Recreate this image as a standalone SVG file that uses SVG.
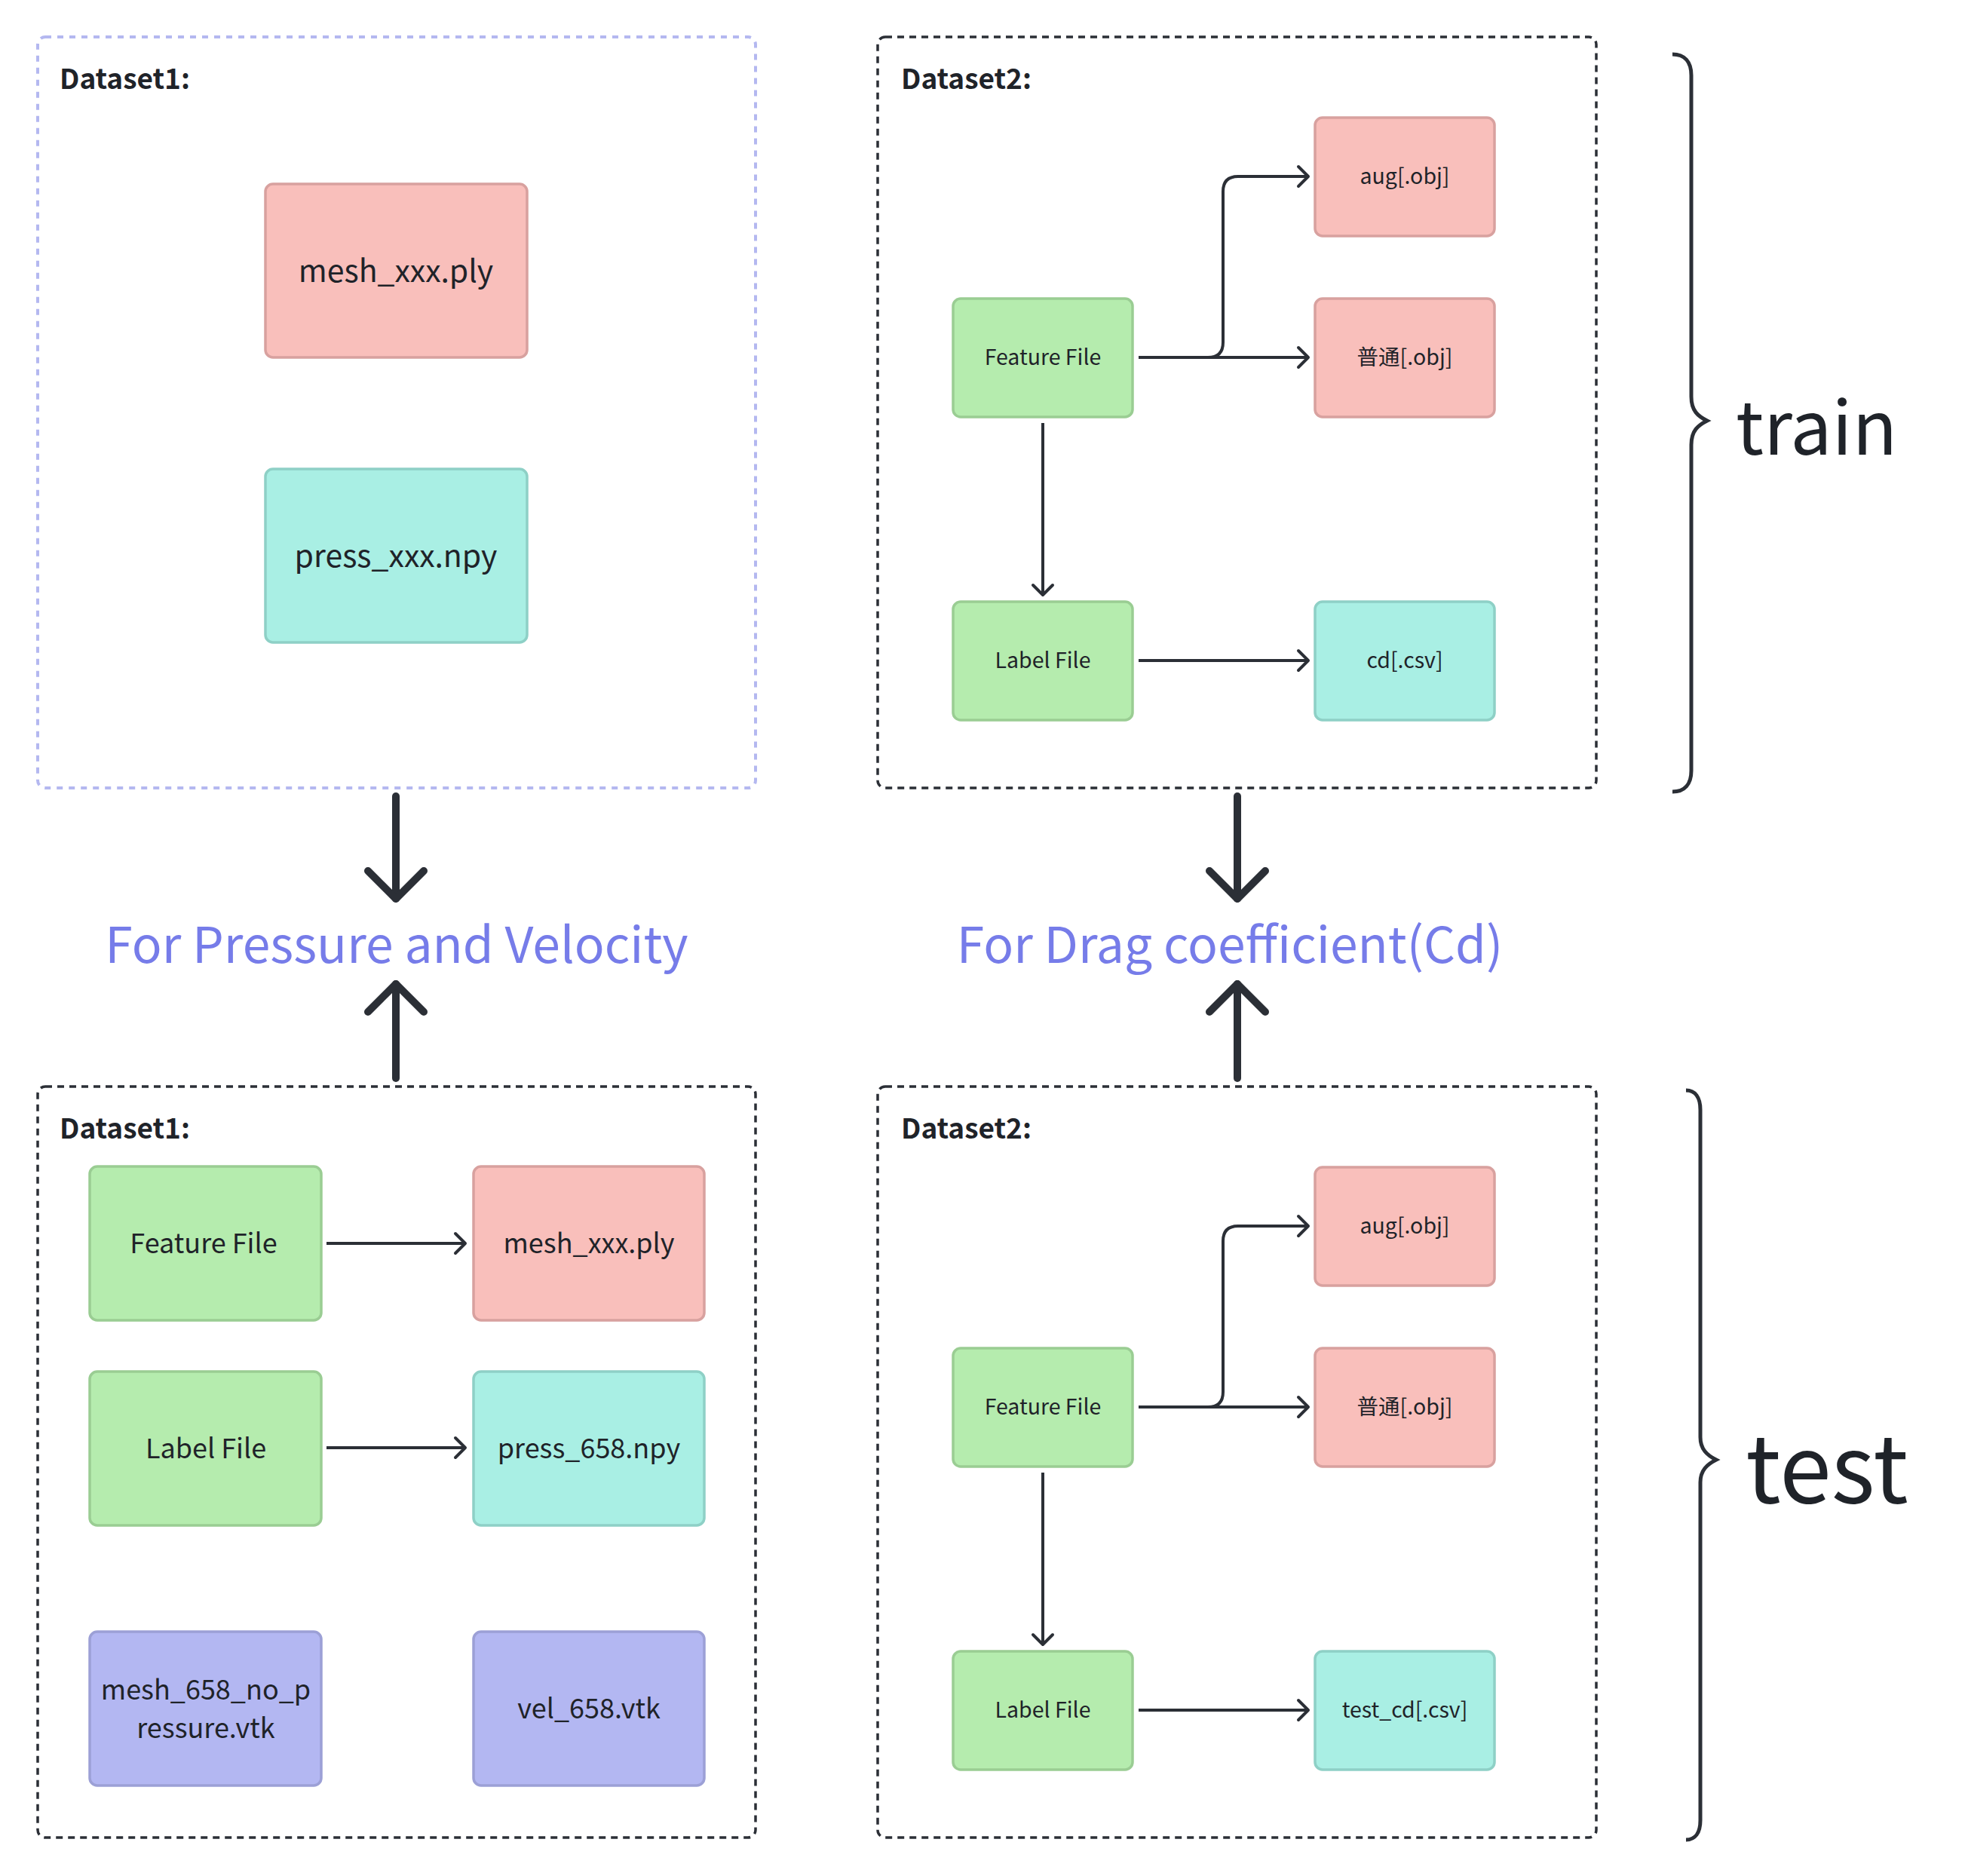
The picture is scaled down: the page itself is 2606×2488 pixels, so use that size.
<svg xmlns="http://www.w3.org/2000/svg" width="2606" height="2488" viewBox="0 0 2606 2488">
<style>
text{font-family:"Noto Sans CJK SC","Noto Sans",sans-serif;fill:#1f2329}
.lbl{font-weight:700;font-size:37px}
.n48{font-size:41px;text-anchor:middle}
.n41{font-size:36px;text-anchor:middle}
.n32{font-size:28.5px;text-anchor:middle}
.for{font-size:66px;fill:#767ce9;text-anchor:middle}
.big{font-size:98px}
.grp-light{fill:none;stroke:#b4b8f0;stroke-width:4;stroke-dasharray:8 8}
.grp-dark{fill:none;stroke:#2b2f36;stroke-width:3.5;stroke-dasharray:9 7}
.pink{fill:#f9bfbb;stroke:#d8a19f;stroke-width:3.5}
.teal{fill:#a9efe4;stroke:#8ed0c6;stroke-width:3.5}
.green{fill:#b5ecae;stroke:#9acd93;stroke-width:3.5}
.purple{fill:#b3b7f2;stroke:#9ca0d6;stroke-width:3.5}
.thin{fill:none;stroke:#2b2f36;stroke-width:4;marker-end:url(#ah)}
.thick{fill:none;stroke:#2b2f36;stroke-width:10;stroke-linecap:round;marker-end:url(#bh)}
.brace{fill:none;stroke:#2b2f36;stroke-width:5}
</style>
<defs>
<marker id="ah" markerUnits="userSpaceOnUse" viewBox="0 0 40 40" markerWidth="40" markerHeight="40" refX="22" refY="20" orient="auto">
<path d="M8,7 L21,20 L8,33" fill="none" stroke="#2b2f36" stroke-width="4" stroke-linecap="round" stroke-linejoin="round"/>
</marker>
<marker id="bh" markerUnits="userSpaceOnUse" viewBox="0 0 100 100" markerWidth="100" markerHeight="100" refX="50" refY="50" orient="auto">
<path d="M13,13 L50,50 L13,87" fill="none" stroke="#2b2f36" stroke-width="10" stroke-linecap="round" stroke-linejoin="round"/>
</marker>
</defs>
<rect width="2606" height="2488" fill="#ffffff"/>

<g id="train-dataset1">
<rect class="grp-light" x="50" y="49" width="952" height="996" rx="10"/>
<text class="lbl" x="79" y="118">Dataset1:</text>
</g>
<g id="train-mesh"><rect class="pink" x="352" y="244" width="347" height="230" rx="10"/><text class="n48" x="525" y="374">mesh_xxx.ply</text></g>
<g id="train-press"><rect class="teal" x="352" y="622" width="347" height="230" rx="10"/><text class="n48" x="525" y="752">press_xxx.npy</text></g>

<g id="train-dataset2">
<rect class="grp-dark" x="1164" y="49" width="953" height="996" rx="10"/>
<text class="lbl" x="1195" y="118">Dataset2:</text>
</g>
<g id="train-feature"><rect class="green" x="1264" y="396" width="238" height="157" rx="10"/><text class="n32" x="1383" y="484">Feature File</text></g>
<g id="train-aug"><rect class="pink" x="1744" y="156" width="238" height="157" rx="10"/><text class="n32" x="1863" y="244">aug[.obj]</text></g>
<g id="train-normal"><rect class="pink" x="1744" y="396" width="238" height="157" rx="10"/><text class="n32" x="1863" y="484">普通[.obj]</text></g>
<g id="train-label"><rect class="green" x="1264" y="798" width="238" height="157" rx="10"/><text class="n32" x="1383" y="886">Label File</text></g>
<g id="train-cd"><rect class="teal" x="1744" y="798" width="238" height="157" rx="10"/><text class="n32" x="1863" y="886">cd[.csv]</text></g>

<g id="train-brace">
<path class="brace" d="M2218,72 C2234,72 2243,82 2243,100 V526 C2243,545 2252,552 2264,558 C2252,564 2243,571 2243,590 V1022 C2243,1040 2234,1050 2218,1050"/>
<text class="big" x="2302" y="603">train</text>
</g>

<g id="purpose-left"><text class="for" x="526" y="1277">For Pressure and Velocity</text></g>
<g id="purpose-right"><text class="for" x="1631" y="1277">For Drag coefficient(Cd)</text></g>

<g id="test-dataset1">
<rect class="grp-dark" x="50" y="1441" width="952" height="996" rx="10"/>
<text class="lbl" x="79" y="1510">Dataset1:</text>
</g>
<g id="test-feature1"><rect class="green" x="119" y="1547" width="307" height="204" rx="10"/><text class="n41" x="270" y="1662">Feature File</text></g>
<g id="test-mesh"><rect class="pink" x="628" y="1547" width="306" height="204" rx="10"/><text class="n41" x="781" y="1662">mesh_xxx.ply</text></g>
<g id="test-label1"><rect class="green" x="119" y="1819" width="307" height="204" rx="10"/><text class="n41" x="273" y="1934">Label File</text></g>
<g id="test-press"><rect class="teal" x="628" y="1819" width="306" height="204" rx="10"/><text class="n41" x="781" y="1934">press_658.npy</text></g>
<g id="test-mesh-vtk"><rect class="purple" x="119" y="2164" width="307" height="204" rx="10"/><text class="n41" x="273" y="2254">mesh_658_no_p</text><text class="n41" x="273" y="2305">ressure.vtk</text></g>
<g id="test-vel"><rect class="purple" x="628" y="2164" width="306" height="204" rx="10"/><text class="n41" x="781" y="2279">vel_658.vtk</text></g>

<g id="test-dataset2">
<rect class="grp-dark" x="1164" y="1441" width="953" height="996" rx="10"/>
<text class="lbl" x="1195" y="1510">Dataset2:</text>
</g>
<g id="test-feature2"><rect class="green" x="1264" y="1788" width="238" height="157" rx="10"/><text class="n32" x="1383" y="1876">Feature File</text></g>
<g id="test-aug"><rect class="pink" x="1744" y="1548" width="238" height="157" rx="10"/><text class="n32" x="1863" y="1636">aug[.obj]</text></g>
<g id="test-normal"><rect class="pink" x="1744" y="1788" width="238" height="157" rx="10"/><text class="n32" x="1863" y="1876">普通[.obj]</text></g>
<g id="test-label2"><rect class="green" x="1264" y="2190" width="238" height="157" rx="10"/><text class="n32" x="1383" y="2278">Label File</text></g>
<g id="test-cd"><rect class="teal" x="1744" y="2190" width="238" height="157" rx="10"/><text class="n32" x="1863" y="2278">test_cd[.csv]</text></g>

<g id="test-brace">
<path class="brace" d="M2236,1446 C2248,1446 2255,1455 2255,1472 V1906 C2255,1922 2264,1930 2276,1936 C2264,1942 2255,1950 2255,1966 V2414 C2255,2431 2248,2440 2236,2440"/>
<text class="big" x="2315" y="1993" style="font-size:124px">test</text>
</g>

<g id="connectors">
<path class="thin" d="M1510,474 H1736"/>
<path class="thin" d="M1510,474 H1602 Q1622,474 1622,454 V254 Q1622,234 1642,234 H1736"/>
<path class="thin" d="M1383,561 V790"/>
<path class="thin" d="M1510,876 H1736"/>
<path class="thin" d="M1510,1866 H1736"/>
<path class="thin" d="M1510,1866 H1602 Q1622,1866 1622,1846 V1646 Q1622,1626 1642,1626 H1736"/>
<path class="thin" d="M1383,1953 V2182"/>
<path class="thin" d="M1510,2268 H1736"/>
<path class="thin" d="M433,1649 H618"/>
<path class="thin" d="M433,1920 H618"/>
<path class="thick" d="M525,1056 V1192"/>
<path class="thick" d="M525,1430 V1305"/>
<path class="thick" d="M1641,1056 V1192"/>
<path class="thick" d="M1641,1430 V1305"/>
</g>
</svg>
